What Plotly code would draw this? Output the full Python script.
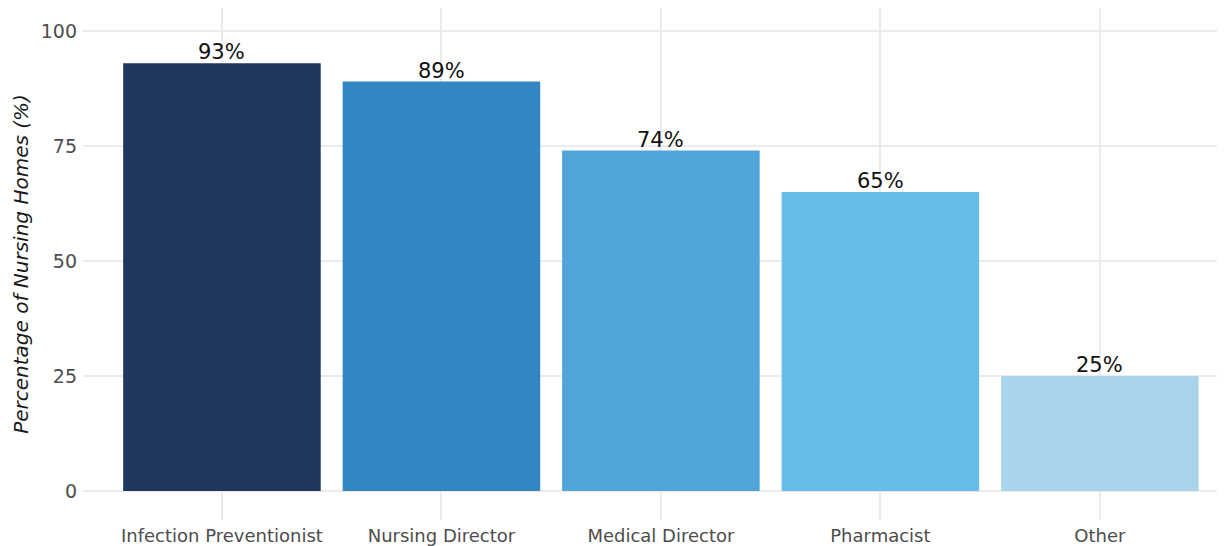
import plotly.graph_objects as go

# values
roles = ["Infection Preventionist", "Nursing Director", "Medical Director", "Pharmacist", "Other"]
pct = [93, 89, 74, 65, 25]
bar_colors = ["#213760", "#3186c3", "#4fa5d9", "#67bde9", "#a8d4ec"]
y_ticks = [0, 25, 50, 75, 100]

FONT = "DejaVu Sans, Verdana, sans-serif"
GRID = "#ebebeb"

fig = go.Figure(
    go.Bar(
        x=roles,
        y=pct,
        marker=dict(color=bar_colors, line=dict(width=0)),
        width=0.9,
        hoverinfo="x+y",
    )
)

# value labels sitting just above each bar
for role, v in zip(roles, pct):
    fig.add_annotation(
        x=role, y=v, text=f"{v}%",
        showarrow=False, yanchor="middle", yshift=11,
        font=dict(family=FONT, size=21, color="#111111"),
    )

# page body has an 8px margin, so the figure is 8px smaller than the window
fig.update_layout(
    width=1217,
    height=538,
    plot_bgcolor="white",
    paper_bgcolor="white",
    margin=dict(l=75, r=0, t=0, b=26),
    showlegend=False,
    font=dict(family=FONT),
)

fig.update_xaxes(
    range=[-0.633, 4.57],
    showgrid=True,
    gridcolor=GRID,
    gridwidth=2,
    showline=False,
    ticks="",
    ticklabelstandoff=3,
    tickfont=dict(family=FONT, size=18, color="#4d4d4d"),
    automargin=False,
)

fig.update_yaxes(
    range=[-6.3, 105],
    tickvals=y_ticks,
    showgrid=True,
    gridcolor=GRID,
    gridwidth=2,
    zeroline=False,
    showline=False,
    ticks="",
    ticklabelstandoff=5,
    tickfont=dict(family=FONT, size=19, color="#4d4d4d"),
    title=dict(
        text="Percentage of Nursing Homes (%)",
        font=dict(family=FONT, size=20, color="#1a1a1a", style="italic"),
        standoff=6,
    ),
    automargin=False,
)

fig.write_html("out.html")
